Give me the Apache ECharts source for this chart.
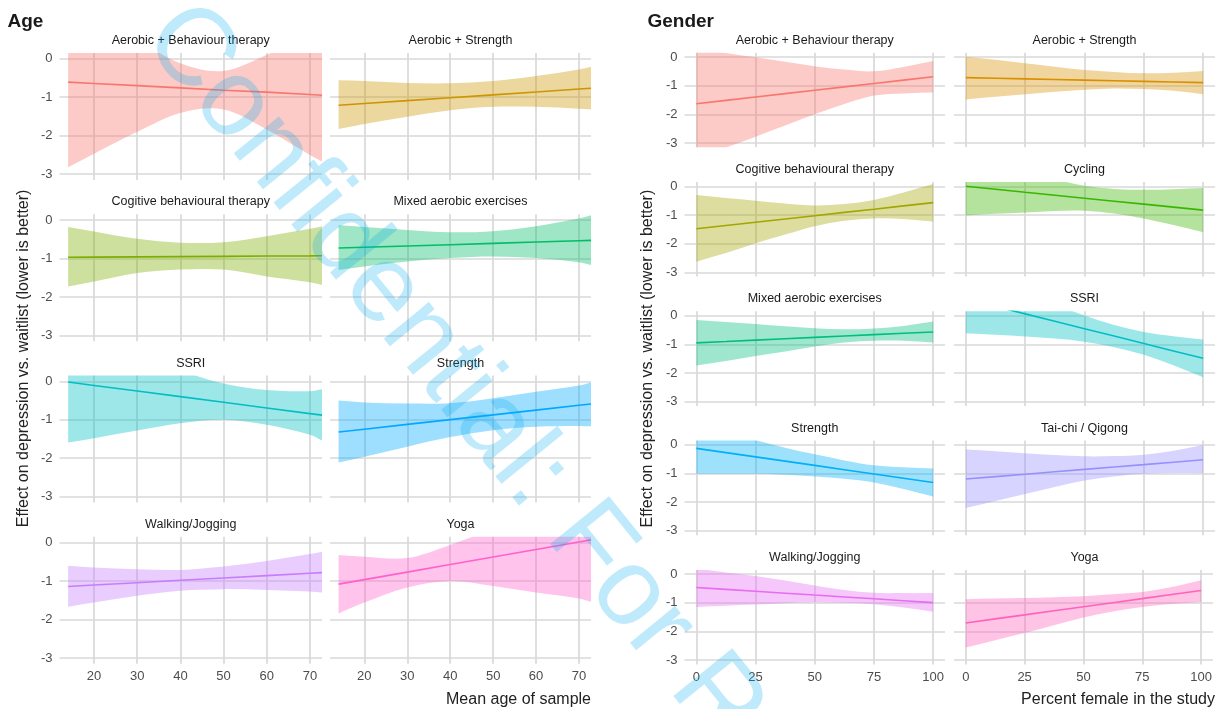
<!DOCTYPE html>
<html>
<head>
<meta charset="utf-8">
<script src="https://cdn.jsdelivr.net/npm/echarts@6/dist/echarts.min.js"></script>
<style>html,body{margin:0;padding:0;background:#fff}#c{width:1215px;height:709px}</style>
</head>
<body>
<div id="c"></div>
<script>
// ---------------- DATA ----------------
const ageX = [14, 20, 30, 40, 50, 60, 70, 72.8];
const genderX = [0, 12.5, 25, 37.5, 50, 62.5, 75, 87.5, 100];
const ageTicks = [20, 30, 40, 50, 60, 70];
const genderTicks = [0, 25, 50, 75, 100];
const effectTicks = [-3, -2, -1, 0];

const ageCategories = ['Aerobic + Behaviour therapy', 'Aerobic + Strength', 'Cogitive behavioural therapy', 'Mixed aerobic exercises', 'SSRI', 'Strength', 'Walking/Jogging', 'Yoga'];
const ageColors = ['#F8766D', '#CD9600', '#7CAE00', '#00BE67', '#00BFC4', '#00A9FF', '#C77CFF', '#FF61CC'];
const genderCategories = ['Aerobic + Behaviour therapy', 'Aerobic + Strength', 'Cogitive behavioural therapy', 'Cycling', 'Mixed aerobic exercises', 'SSRI', 'Strength', 'Tai-chi / Qigong', 'Walking/Jogging', 'Yoga'];
const genderColors = ['#F8766D', '#D89000', '#A3A500', '#39B600', '#00BF7D', '#00BFC4', '#00B0F6', '#9590FF', '#E76BF3', '#FF62BC'];

// Age facets: fitted line, lower and upper CI
const ageABT_fit = [-0.61, -0.645, -0.70, -0.76, -0.82, -0.87, -0.93, -0.95];
const ageABT_lo  = [-2.82, -2.47, -1.90, -1.41, -1.32, -1.84, -2.50, -2.67];
const ageABT_hi  = [1.60, 1.18, 0.50, -0.12, -0.32, 0.10, 0.64, 0.78];
const ageAS_fit = [-1.21, -1.165, -1.09, -1.015, -0.94, -0.865, -0.79, -0.77];
const ageAS_lo  = [-1.83, -1.70, -1.51, -1.34, -1.25, -1.25, -1.30, -1.32];
const ageAS_hi  = [-0.56, -0.58, -0.63, -0.64, -0.58, -0.45, -0.28, -0.21];
const ageCBT_fit = [-0.97, -0.966, -0.959, -0.952, -0.945, -0.938, -0.932, -0.93];
const ageCBT_lo  = [-1.73, -1.60, -1.38, -1.29, -1.29, -1.47, -1.62, -1.69];
const ageCBT_hi  = [-0.18, -0.30, -0.49, -0.59, -0.58, -0.42, -0.23, -0.16];
const ageMIX_fit = [-0.73, -0.71, -0.676, -0.642, -0.608, -0.574, -0.54, -0.53];
const ageMIX_lo  = [-1.30, -1.21, -1.08, -0.99, -0.95, -0.99, -1.10, -1.17];
const ageMIX_hi  = [-0.14, -0.18, -0.26, -0.32, -0.29, -0.16, 0.04, 0.12];
const ageSSRI_fit = [-0.02, -0.108, -0.254, -0.40, -0.547, -0.693, -0.84, -0.88];
const ageSSRI_lo  = [-1.59, -1.48, -1.28, -1.09, -1.00, -1.13, -1.39, -1.54];
const ageSSRI_hi  = [1.55, 1.26, 0.77, 0.29, -0.06, -0.23, -0.26, -0.21];
const ageSTR_fit = [-1.32, -1.245, -1.121, -0.997, -0.873, -0.749, -0.625, -0.59];
const ageSTR_lo  = [-2.11, -1.96, -1.70, -1.45, -1.27, -1.18, -1.16, -1.17];
const ageSTR_hi  = [-0.50, -0.55, -0.58, -0.57, -0.44, -0.27, -0.11, -0.03];
const ageWALK_fit = [-1.14, -1.103, -1.042, -0.98, -0.92, -0.86, -0.797, -0.78];
const ageWALK_lo  = [-1.67, -1.56, -1.38, -1.25, -1.21, -1.23, -1.27, -1.30];
const ageWALK_hi  = [-0.60, -0.65, -0.69, -0.71, -0.62, -0.48, -0.30, -0.24];
const ageYOGA_fit = [-1.08, -0.963, -0.767, -0.57, -0.376, -0.18, 0.015, 0.07];
const ageYOGA_lo  = [-1.84, -1.56, -1.17, -1.00, -1.13, -1.30, -1.45, -1.54];
const ageYOGA_hi  = [-0.32, -0.37, -0.40, -0.06, 0.37, 0.94, 1.47, 1.68];

// Gender facets
const genABT_fit = [-1.63, -1.513, -1.395, -1.278, -1.16, -1.043, -0.925, -0.808, -0.69];
const genABT_lo  = [-3.56, -3.16, -2.78, -2.39, -2.00, -1.64, -1.345, -1.27, -1.24];
const genABT_hi  = [0.30, 0.14, -0.01, -0.17, -0.32, -0.44, -0.50, -0.35, -0.14];
const genAS_fit = [-0.72, -0.742, -0.764, -0.786, -0.808, -0.83, -0.852, -0.874, -0.895];
const genAS_lo  = [-1.48, -1.39, -1.30, -1.21, -1.14, -1.10, -1.12, -1.18, -1.30];
const genAS_hi  = [0.01, -0.10, -0.22, -0.34, -0.45, -0.52, -0.57, -0.55, -0.49];
const genCBT_fit = [-1.48, -1.366, -1.253, -1.139, -1.025, -0.911, -0.798, -0.684, -0.57];
const genCBT_lo  = [-2.63, -2.33, -1.99, -1.68, -1.39, -1.20, -1.12, -1.14, -1.23];
const genCBT_hi  = [-0.30, -0.41, -0.50, -0.60, -0.67, -0.62, -0.48, -0.22, 0.08];
const genCYC_fit = [0.0, -0.104, -0.208, -0.311, -0.415, -0.519, -0.623, -0.726, -0.83];
const genCYC_lo  = [-1.02, -0.96, -0.91, -0.86, -0.85, -0.95, -1.12, -1.35, -1.60];
const genCYC_hi  = [1.02, 0.75, 0.49, 0.24, 0.02, -0.09, -0.12, -0.10, -0.06];
const genMIX_fit = [-0.95, -0.903, -0.855, -0.808, -0.76, -0.713, -0.665, -0.618, -0.57];
const genMIX_lo  = [-1.74, -1.58, -1.41, -1.25, -1.08, -0.94, -0.88, -0.88, -0.94];
const genMIX_hi  = [-0.15, -0.22, -0.29, -0.37, -0.44, -0.48, -0.45, -0.36, -0.21];
const genSSRI_fit = [0.577, 0.319, 0.06, -0.198, -0.457, -0.715, -0.973, -1.232, -1.49];
const genSSRI_lo  = [-0.62, -0.67, -0.73, -0.80, -0.91, -1.10, -1.37, -1.73, -2.15];
const genSSRI_hi  = [1.78, 1.31, 0.85, 0.40, 0.00, -0.33, -0.57, -0.72, -0.83];
const genSTR_fit = [-0.12, -0.269, -0.418, -0.566, -0.715, -0.864, -1.013, -1.161, -1.31];
const genSTR_lo  = [-1.01, -1.01, -1.01, -1.04, -1.10, -1.18, -1.31, -1.54, -1.80];
const genSTR_hi  = [0.77, 0.47, 0.17, -0.10, -0.33, -0.54, -0.71, -0.78, -0.82];
const genTAI_fit = [-1.19, -1.106, -1.023, -0.939, -0.855, -0.771, -0.688, -0.604, -0.52];
const genTAI_lo  = [-2.20, -1.96, -1.71, -1.47, -1.24, -1.10, -1.01, -0.98, -0.99];
const genTAI_hi  = [-0.16, -0.22, -0.29, -0.35, -0.40, -0.39, -0.34, -0.20, 0.00];
const genWALK_fit = [-0.465, -0.531, -0.596, -0.662, -0.728, -0.793, -0.859, -0.924, -0.99];
const genWALK_lo  = [-1.14, -1.10, -1.06, -1.01, -0.98, -1.00, -1.05, -1.16, -1.31];
const genWALK_hi  = [0.20, 0.06, -0.06, -0.22, -0.39, -0.55, -0.65, -0.66, -0.66];
const genYOGA_fit = [-1.70, -1.559, -1.418, -1.276, -1.135, -0.994, -0.853, -0.711, -0.57];
const genYOGA_lo  = [-2.56, -2.30, -2.05, -1.78, -1.51, -1.30, -1.14, -1.04, -0.97];
const genYOGA_hi  = [-0.87, -0.85, -0.83, -0.80, -0.77, -0.70, -0.62, -0.45, -0.21];

// ---------------- BUILD ----------------
const ageFacets = [
  [ageABT_fit, ageABT_lo, ageABT_hi], [ageAS_fit, ageAS_lo, ageAS_hi],
  [ageCBT_fit, ageCBT_lo, ageCBT_hi], [ageMIX_fit, ageMIX_lo, ageMIX_hi],
  [ageSSRI_fit, ageSSRI_lo, ageSSRI_hi], [ageSTR_fit, ageSTR_lo, ageSTR_hi],
  [ageWALK_fit, ageWALK_lo, ageWALK_hi], [ageYOGA_fit, ageYOGA_lo, ageYOGA_hi]
];
const genFacets = [
  [genABT_fit, genABT_lo, genABT_hi], [genAS_fit, genAS_lo, genAS_hi],
  [genCBT_fit, genCBT_lo, genCBT_hi], [genCYC_fit, genCYC_lo, genCYC_hi],
  [genMIX_fit, genMIX_lo, genMIX_hi], [genSSRI_fit, genSSRI_lo, genSSRI_hi],
  [genSTR_fit, genSTR_lo, genSTR_hi], [genTAI_fit, genTAI_lo, genTAI_hi],
  [genWALK_fit, genWALK_lo, genWALK_hi], [genYOGA_fit, genYOGA_lo, genYOGA_hi]
];

const FONT = '"Liberation Sans", Arial, Helvetica, sans-serif';
const GRID_COLOR = '#d9d9d9';
const panels = [
  { xs: ageX, ticks: ageTicks, xmin: 12, xmax: 72.8, names: ageCategories, colors: ageColors, facets: ageFacets,
    cols: [[59.5, 262.5], [330, 261]], top0: 52.9, step: 161.3, h: 127 },
  { xs: genderX, ticks: genderTicks, xmin: -5, xmax: 105, names: genderCategories, colors: genderColors, facets: genFacets,
    cols: [[684.5, 260.5], [954, 261]], top0: 52.7, step: 129.3, h: 94.6 }
];

function curve(p) {
  const n = p.length, s = [];
  for (let i = 0; i < n; i++) {
    const a = p[Math.max(0, i - 1)], b = p[Math.min(n - 1, i + 1)];
    s.push((b[1] - a[1]) / (b[0] - a[0]));
  }
  let out = '';
  for (let i = 0; i < n - 1; i++) {
    const dx = p[i + 1][0] - p[i][0];
    out += ' C' + (p[i][0] + dx / 3) + ' ' + (p[i][1] + s[i] * dx / 3) + ' ' +
      (p[i + 1][0] - dx / 3) + ' ' + (p[i + 1][1] - s[i + 1] * dx / 3) + ' ' +
      p[i + 1][0] + ' ' + p[i + 1][1];
  }
  return out;
}

const grids = [], xAxes = [], yAxes = [], series = [], graphics = [];
panels.forEach(P => {
  const nRows = Math.ceil(P.facets.length / 2);
  P.facets.forEach((f, k) => {
    const row = Math.floor(k / 2), col = k % 2;
    const g = grids.length;
    const left = P.cols[col][0], width = P.cols[col][1];
    const top = P.top0 + row * P.step;
    grids.push({ left: left, top: top, width: width, height: P.h });
    const bottomRow = (row === nRows - 1) || (k + 2 >= P.facets.length);
    xAxes.push({
      type: 'value', gridIndex: g, min: P.xmin, max: P.xmax,
      axisLine: { show: false }, axisTick: { show: false, customValues: P.ticks },
      axisLabel: { show: bottomRow, customValues: P.ticks, color: '#4d4d4d', fontSize: 13, margin: 6, fontFamily: FONT },
      splitLine: { show: true, lineStyle: { color: GRID_COLOR, width: 1.7 } }
    });
    yAxes.push({
      type: 'value', gridIndex: g, min: -3.15, max: 0.15,
      axisLine: { show: false }, axisTick: { show: false, customValues: effectTicks },
      axisLabel: { show: col === 0, customValues: effectTicks, color: '#4d4d4d', fontSize: 13, margin: 7, fontFamily: FONT },
      splitLine: { show: true, lineStyle: { color: GRID_COLOR, width: 1.7 } }
    });
    const [fit, lo, hi] = f;
    const color = P.colors[k];
    const xs = P.xs;
    series.push({
      type: 'custom', xAxisIndex: g, yAxisIndex: g, clip: true, silent: true, z: 2,
      data: xs.map((x, i) => [x, lo[i], hi[i]]),
      encode: { x: 0, y: [1, 2] },
      renderItem: function (params, api) {
        if (params.dataIndex !== 0) return null;
        const up = xs.map((x, i) => api.coord([x, hi[i]]));
        const dn = xs.map((x, i) => api.coord([x, lo[i]])).reverse();
        const d = 'M' + up[0][0] + ' ' + up[0][1] + curve(up) +
          ' L' + dn[0][0] + ' ' + dn[0][1] + curve(dn) + ' Z';
        return { type: 'path', shape: { pathData: d }, style: { fill: color, opacity: 0.38 } };
      }
    });
    series.push({
      type: 'line', xAxisIndex: g, yAxisIndex: g, clip: true, silent: true, z: 3,
      symbol: 'none', showSymbol: false,
      data: xs.map((x, i) => [x, fit[i]]),
      lineStyle: { color: color, width: 1.6 }, itemStyle: { color: color }
    });
    graphics.push({
      type: 'text', x: left + width / 2, y: top - 12.4,
      style: { text: P.names[k], font: '12.5px ' + FONT, fill: '#1a1a1a', textAlign: 'center', textVerticalAlign: 'middle', verticalAlign: 'middle' }
    });
  });
});

function label(text, x, y, font, align, rot, fill) {
  return { type: 'text', x: x, y: y, rotation: rot || 0,
    style: { text: text, font: font, fill: fill || '#1a1a1a', textAlign: align, textVerticalAlign: 'middle', verticalAlign: 'middle' } };
}
graphics.push(label('Age', 7.5, 21.5, 'bold 19px ' + FONT, 'left'));
graphics.push(label('Gender', 647.5, 21.5, 'bold 19px ' + FONT, 'left'));
graphics.push(label('Mean age of sample', 591, 699.5, '16px ' + FONT, 'right', 0, '#222'));
graphics.push(label('Percent female in the study', 1215, 699.5, '16px ' + FONT, 'right', 0, '#222'));
graphics.push(label('Effect on depression vs. waitlist (lower is better)', 24, 358.4, '16px ' + FONT, 'center', Math.PI / 2, '#222'));
graphics.push(label('Effect on depression vs. waitlist (lower is better)', 648, 358.6, '16px ' + FONT, 'center', Math.PI / 2, '#222'));
// watermark
graphics.push({
  type: 'text', x: 164, y: 19, rotation: -0.89, z: 100,
  style: { text: 'Confidential: For Review Only', font: '110px ' + FONT, fill: 'rgba(0,170,240,0.25)', textAlign: 'left', textVerticalAlign: 'middle', verticalAlign: 'middle' }
});

const chart = echarts.init(document.getElementById('c'), null, { renderer: 'canvas' });
chart.setOption({
  animation: false,
  backgroundColor: '#ffffff',
  grid: grids, xAxis: xAxes, yAxis: yAxes, series: series,
  graphic: { elements: graphics }
});
</script>
</body>
</html>
